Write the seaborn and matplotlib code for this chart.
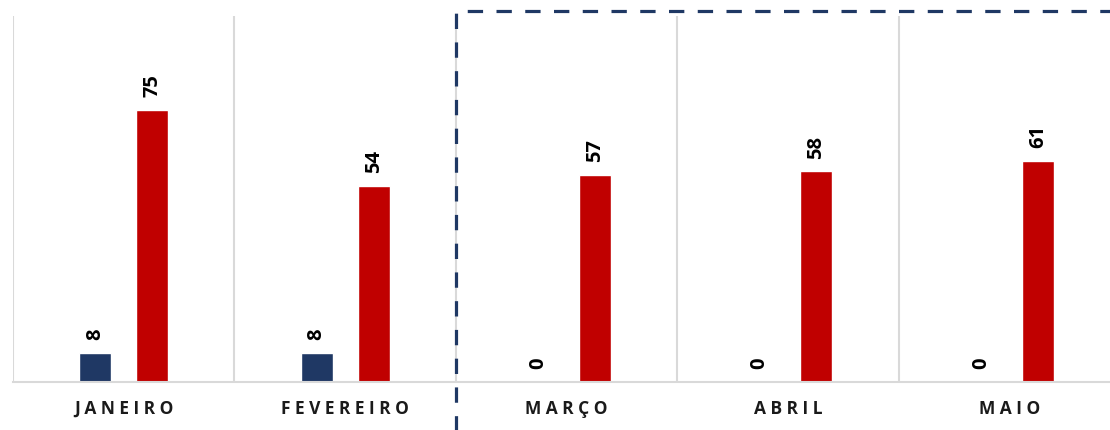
import numpy as np
import pandas as pd
import matplotlib
matplotlib.use("Agg")
import matplotlib.pyplot as plt
import seaborn as sns

# data
months = ["JANEIRO", "FEVEREIRO", "MARÇO", "ABRIL", "MAIO"]
serie_a = [8, 8, 0, 0, 0]
serie_b = [75, 54, 57, 58, 61]

NAVY = "#1F3864"
RED = "#C00000"
GRID = "#D9D9D9"

df = pd.DataFrame({
    "mes": months * 2,
    "serie": ["A"] * len(months) + ["B"] * len(months),
    "valor": serie_a + serie_b,
})

sns.set_theme(style="white")
plt.rcParams["font.family"] = ["Open Sans", "DejaVu Sans"]

fig = plt.figure(figsize=(11.1, 4.31), dpi=100)
ax = fig.add_axes([13 / 1110, 1 - 383 / 431, 1107 / 1110, 366 / 431])

sns.barplot(data=df, x="mes", y="valor", hue="serie", order=months,
            palette=[NAVY, RED], width=0.515, gap=0.44, legend=False, ax=ax,
            saturation=1)

ax.set_xlim(-0.5, 4.5)
ax.set_ylim(0, 100.8)

# value labels
for cont in ax.containers:
    for bar in cont:
        h = bar.get_height()
        ax.annotate(f"{h:.0f}", (bar.get_x() + bar.get_width() / 2, h),
                    xytext=(0, 10), textcoords="offset points",
                    ha="center", va="bottom", rotation=90,
                    fontsize=14.5, fontweight="bold", color="black")

# category separators
ax.set_xticks(np.arange(len(months)))
ax.set_xticklabels([" ".join(m) for m in months], fontsize=12.5,
                   fontweight="bold", color="#1a1a1a")
ax.set_xticks(np.arange(-0.5, len(months)), minor=True)
ax.tick_params(axis="x", which="major", length=0, pad=12)
ax.tick_params(axis="x", which="minor", length=7, width=1.5, color=GRID)
ax.grid(axis="x", which="minor", color=GRID, linewidth=1.5)
ax.set_yticks([])
ax.set_xlabel("")
ax.set_ylabel("")

for s in ["top", "right", "left"]:
    ax.spines[s].set_visible(False)
ax.spines["bottom"].set_color(GRID)
ax.spines["bottom"].set_linewidth(1.5)

# dashed box around the second period
ax.plot([1.5, 1.5, 5.2], [-14, 102.2, 102.2], color=NAVY, lw=2.3,
        dashes=(4.8, 4.2), clip_on=False, solid_capstyle="butt")

fig.savefig("out.png", dpi=100)
